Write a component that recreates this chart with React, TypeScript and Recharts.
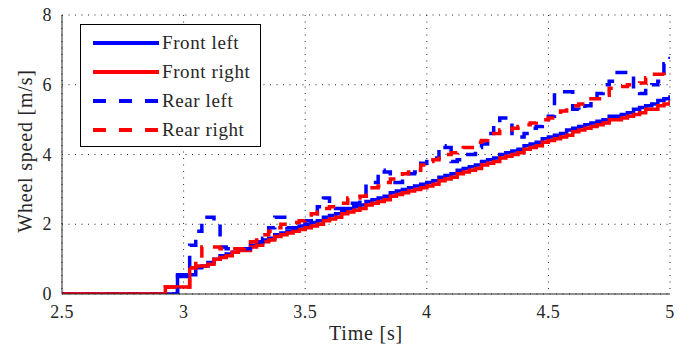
/**
 * Wheel speed chart
 * Step lines of the four wheel speeds against time
 */

import {
  CartesianGrid,
  Line,
  LineChart,
  XAxis,
  YAxis,
} from "recharts"

/******************************************************************************
                              Data
******************************************************************************/

// time [s]
const TIME = [
  2.5,
  2.9, 2.925, 2.95, 2.975,
  3.0, 3.025, 3.05, 3.075,
  3.1, 3.125, 3.15, 3.175,
  3.2, 3.225, 3.25, 3.275,
  3.3, 3.325, 3.35, 3.375,
  3.4, 3.425, 3.45, 3.475,
  3.5, 3.525, 3.55, 3.575,
  3.6, 3.625, 3.65, 3.675,
  3.7, 3.725, 3.75, 3.775,
  3.8, 3.825, 3.85, 3.875,
  3.9, 3.925, 3.95, 3.975,
  4.0, 4.025, 4.05, 4.075,
  4.1, 4.125, 4.15, 4.175,
  4.2, 4.225, 4.25, 4.275,
  4.3, 4.325, 4.35, 4.375,
  4.4, 4.425, 4.45, 4.475,
  4.5, 4.525, 4.55, 4.575,
  4.6, 4.625, 4.65, 4.675,
  4.7, 4.725, 4.75, 4.775,
  4.8, 4.825, 4.85, 4.875,
  4.9, 4.925, 4.95, 4.975,
  5.0,
]

// wheel speed [m/s]
const FRONT_LEFT = [
  0,
  0, 0, 0, 0.55,
  0.55, 0.55, 0.75, 0.8,
  0.9, 1.0, 1.1, 1.15,
  1.2, 1.3, 1.3, 1.4,
  1.45, 1.55, 1.6, 1.7,
  1.75, 1.8, 1.85, 1.95,
  2.0, 2.05, 2.1, 2.2,
  2.25, 2.3, 2.4, 2.45,
  2.5, 2.55, 2.65, 2.7,
  2.75, 2.8, 2.9, 2.95,
  3.0, 3.05, 3.1, 3.15,
  3.2, 3.25, 3.35, 3.4,
  3.45, 3.55, 3.6, 3.65,
  3.7, 3.8, 3.85, 3.9,
  4.0, 4.05, 4.1, 4.15,
  4.25, 4.3, 4.35, 4.45,
  4.5, 4.55, 4.6, 4.7,
  4.75, 4.8, 4.85, 4.9,
  4.95, 5.0, 5.1, 5.1,
  5.15, 5.2, 5.3, 5.35,
  5.4, 5.45, 5.55, 5.6,
  5.7,
]

const FRONT_RIGHT = [
  0,
  0, 0.2, 0.2, 0.2,
  0.2, 0.75, 0.8, 0.8,
  0.85, 1.0, 1.05, 1.1,
  1.2, 1.25, 1.25, 1.35,
  1.4, 1.5, 1.55, 1.65,
  1.7, 1.75, 1.8, 1.85,
  1.9, 1.95, 2.0, 2.1,
  2.15, 2.2, 2.3, 2.35,
  2.4, 2.45, 2.55, 2.6,
  2.65, 2.7, 2.8, 2.85,
  2.9, 2.95, 3.0, 3.05,
  3.1, 3.15, 3.25, 3.3,
  3.35, 3.45, 3.5, 3.55,
  3.6, 3.7, 3.75, 3.8,
  3.9, 3.95, 4.0, 4.05,
  4.15, 4.2, 4.25, 4.35,
  4.4, 4.45, 4.5, 4.55,
  4.65, 4.7, 4.75, 4.8,
  4.85, 4.9, 5.0, 5.0,
  5.05, 5.1, 5.15, 5.2,
  5.3, 5.3, 5.4, 5.45,
  5.55,
]

const REAR_LEFT = [
  0,
  0, 0, 0, 0.5,
  0.5, 1.4, 1.8, 2.2,
  2.2, 2.0, 1.35, 1.3,
  1.3, 1.3, 1.3, 1.3,
  1.5, 1.6, 1.9, 2.2,
  2.2, 1.9, 1.9, 2.0,
  2.1, 2.3, 2.5, 2.75,
  2.5, 2.45, 2.45, 2.6,
  2.6, 2.8, 3.15, 3.2,
  3.55, 3.5, 3.2, 3.2,
  3.3, 3.45, 3.5, 3.75,
  3.9, 3.9, 4.25, 4.2,
  3.8, 3.85, 4.0, 4.0,
  4.2, 4.3, 4.6, 4.9,
  5.05, 5.05, 4.6, 4.5,
  4.6, 4.75, 4.8, 4.95,
  5.1, 5.8, 5.8, 5.8,
  5.3, 5.25, 5.4, 5.6,
  5.75, 6.0, 6.1, 6.35,
  6.35, 6.3, 5.8, 5.75,
  5.9, 6.0, 6.1, 6.6,
  6.8,
]

const REAR_RIGHT = [
  0,
  0, 0.2, 0.2, 0.2,
  0.2, 0.75, 1.0, 1.35,
  1.35, 1.35, 1.3, 1.3,
  1.3, 1.3, 1.4, 1.5,
  1.55, 1.7, 1.8, 1.9,
  2.0, 2.05, 2.05, 2.1,
  2.2, 2.3, 2.35, 2.45,
  2.5, 2.5, 2.6, 2.75,
  2.75, 2.8, 2.95, 3.05,
  3.1, 3.2, 3.3, 3.35,
  3.45, 3.5, 3.55, 3.7,
  3.8, 3.85, 3.95, 4.0,
  4.05, 4.1, 4.2, 4.2,
  4.35, 4.4, 4.45, 4.6,
  4.7, 4.7, 4.75, 4.8,
  4.85, 4.9, 4.95, 5.0,
  5.05, 5.15, 5.25, 5.35,
  5.4, 5.45, 5.5, 5.6,
  5.6, 5.7, 5.9, 5.95,
  5.95, 6.0, 6.0, 6.05,
  6.2, 6.3, 6.3, 6.25,
  6.2,
]

const X_TICKS = [2.5, 3, 3.5, 4, 4.5, 5]
const Y_TICKS = [0, 2, 4, 6, 8]

/******************************************************************************
                              Constants
******************************************************************************/

const BLUE = "#0000ff"
const RED = "#ff0000"
const AXIS = "#262626"
const FONT = "Liberation Serif"

const SERIES = [
  { key: "fl", label: "Front left", color: BLUE, dash: undefined },
  { key: "fr", label: "Front right", color: RED, dash: undefined },
  { key: "rl", label: "Rear left", color: BLUE, dash: "12 10" },
  { key: "rr", label: "Rear right", color: RED, dash: "12 10" },
]

/******************************************************************************
                              Functions
******************************************************************************/

function minorTicks(from: number, to: number, step: number): number[] {
  const out: number[] = []
  for (let v = from; v <= to + 1e-9; v += step) out.push(Math.round(v * 100) / 100)
  return out
}

/******************************************************************************
                              Components
******************************************************************************/

function TickLabel(props: any) {
  const { x, y, payload, textAnchor, dx, dy } = props
  return (
    <text
      x={x}
      y={y}
      dx={dx}
      dy={dy}
      textAnchor={textAnchor}
      fill={AXIS}
      style={{ fontFamily: FONT, fontSize: 18, letterSpacing: 0.4 }}
    >
      {String(payload.value)}
    </text>
  )
}

function XTick(props: any) {
  return <TickLabel {...props} textAnchor="middle" dy={16} />
}

function YTick(props: any) {
  return <TickLabel {...props} textAnchor="end" dy={6} />
}

function Legend() {
  return (
    <div
      style={{
        position: "absolute",
        left: 80,
        top: 24,
        width: 179,
        height: 121,
        border: "1.3px solid #000",
        background: "#fff",
        fontFamily: FONT,
        fontSize: 19,
        letterSpacing: 0.6,
        color: AXIS,
      }}
    >
      {SERIES.map((s, i) => (
        <div
          key={s.key}
          style={{
            position: "absolute",
            left: 12,
            top: 6 + i * 29,
            height: 24,
            display: "flex",
            alignItems: "center",
          }}
        >
          <svg width={66} height={6}>
            <line
              x1={0}
              y1={3}
              x2={66}
              y2={3}
              stroke={s.color}
              strokeWidth={4}
              strokeDasharray={s.dash ? "13 13" : undefined}
            />
          </svg>
          <span style={{ marginLeft: 3 }}>{s.label}</span>
        </div>
      ))}
    </div>
  )
}

export default function App() {
  const data = TIME.map((t, i) => ({
    t,
    fl: FRONT_LEFT[i],
    fr: FRONT_RIGHT[i],
    rl: REAR_LEFT[i],
    rr: REAR_RIGHT[i],
  }))

  return (
    <div
      style={{
        position: "absolute",
        left: 0,
        top: 0,
        width: 690,
        height: 351,
        background: "#fff",
        fontFamily: FONT,
      }}
    >
      <LineChart
        width={690}
        height={351}
        data={data}
        margin={{ top: 15, right: 20, bottom: 27, left: 0 }}
      >
        <CartesianGrid stroke={AXIS} strokeDasharray="1 5.5" />
        <XAxis
          dataKey="t"
          type="number"
          domain={[2.5, 5]}
          ticks={X_TICKS}
          tickLine={false}
          tickSize={6}
          tickMargin={2}
          height={30}
          axisLine={{ stroke: AXIS }}
          tick={<XTick />}
          allowDataOverflow
        />
        <XAxis
          xAxisId="minor"
          type="number"
          domain={[2.5, 5]}
          ticks={minorTicks(2.5, 5, 0.05)}
          tick={false}
          axisLine={false}
          tickLine={{ stroke: AXIS }}
          tickSize={3}
          mirror
          allowDataOverflow
        />
        <XAxis
          xAxisId="major"
          type="number"
          domain={[2.5, 5]}
          ticks={X_TICKS}
          tick={false}
          axisLine={false}
          tickLine={{ stroke: AXIS }}
          tickSize={6}
          mirror
          allowDataOverflow
        />
        <YAxis
          type="number"
          domain={[0, 8]}
          ticks={Y_TICKS}
          tickLine={false}
          tickSize={4}
          tickMargin={6}
          width={62}
          axisLine={{ stroke: AXIS }}
          tick={<YTick />}
          allowDataOverflow
        />
        <YAxis
          yAxisId="minor"
          type="number"
          domain={[0, 8]}
          ticks={minorTicks(0, 8, 0.4)}
          tick={false}
          axisLine={false}
          tickLine={{ stroke: AXIS }}
          tickSize={3}
          mirror
          allowDataOverflow
        />
        <YAxis
          yAxisId="major"
          type="number"
          domain={[0, 8]}
          ticks={Y_TICKS}
          tick={false}
          axisLine={false}
          tickLine={{ stroke: AXIS }}
          tickSize={6}
          mirror
          allowDataOverflow
        />
        {SERIES.map((s) => (
          <Line
            key={s.key}
            type="stepAfter"
            dataKey={s.key}
            stroke={s.color}
            strokeWidth={3.5}
            strokeDasharray={s.dash}
            dot={false}
            activeDot={false}
            isAnimationActive={false}
          />
        ))}
      </LineChart>
      <div
        style={{
          position: "absolute",
          left: 316,
          top: 322,
          width: 100,
          textAlign: "center",
          fontSize: 20,
          letterSpacing: 0.8,
          color: AXIS,
        }}
      >
        Time [s]
      </div>
      <div
        style={{
          position: "absolute",
          left: 25,
          top: 151,
          transform: "translate(-50%, -50%) rotate(-90deg)",
          whiteSpace: "nowrap",
          fontSize: 20,
          letterSpacing: 0.8,
          color: AXIS,
        }}
      >
        Wheel speed [m/s]
      </div>
      <Legend />
    </div>
  )
}
